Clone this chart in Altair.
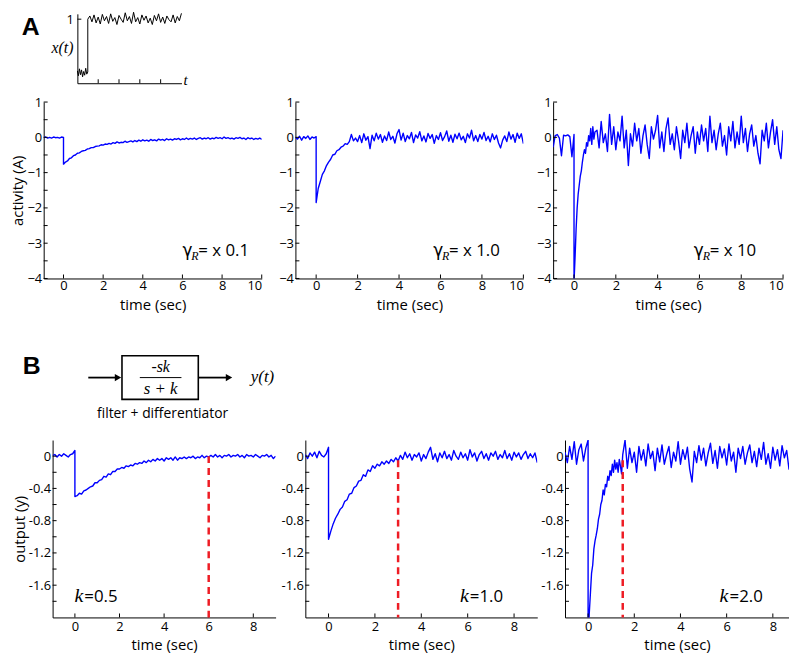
import altair as alt
import pandas as pd

# ---------------- values ----------------
# inset x(t): step input (time in arbitrary units 0..5)
INSET_PRE = [0.03, -0.06, 0.07, -0.04, 0.05, -0.08, 0.02, -0.05, 0.08, -0.03, 0.01]
INSET_POST = [1.0, 1.06, 0.95, 1.08, 0.93, 1.04, 0.91, 1.09, 0.97, 1.05, 0.92, 1.1, 0.96, 1.03,
              0.9, 1.07, 1.0, 0.94, 1.12, 0.97, 1.05, 0.92, 1.13, 0.95, 1.03, 0.91, 1.08, 0.98,
              1.06, 0.93, 1.02, 0.9, 1.07, 0.97, 1.1, 0.94, 1.04, 0.92, 1.06, 0.99, 0.95, 1.08,
              0.93, 1.05, 0.97, 1.11]

# panel A1 (gamma_R x 0.1)
A1_PRE = [-0.01, 0.01, -0.02, 0.0, -0.02, 0.01, -0.01, 0.0, -0.02, 0.01, 0.0]
A1_POST = [-0.76, -0.70, -0.67, -0.60, -0.58, -0.52, -0.50, -0.45, -0.44, -0.40, -0.38, -0.37,
           -0.33, -0.32, -0.29, -0.29, -0.26, -0.25, -0.24, -0.21, -0.22, -0.19, -0.20, -0.17,
           -0.19, -0.15, -0.17, -0.13, -0.16, -0.14, -0.15, -0.11, -0.14, -0.12, -0.10, -0.13,
           -0.09, -0.12, -0.08, -0.11, -0.07, -0.10, -0.08, -0.11, -0.06, -0.09, -0.07, -0.10,
           -0.05, -0.08, -0.06, -0.09, -0.04, -0.07, -0.05, -0.08, -0.04, -0.06, -0.03, -0.07,
           -0.04, -0.06, -0.02, -0.06, -0.03, -0.05, -0.02, -0.06, -0.03, -0.01, -0.05, -0.02,
           -0.04, -0.01, -0.05, -0.02, -0.04, 0.0, -0.03, -0.01, -0.04, 0.01, -0.03, -0.01,
           -0.04, -0.02, -0.05, -0.01, -0.03, 0.0, -0.04, -0.02, -0.06, -0.01, -0.04, -0.02,
           -0.06, -0.03, -0.05, -0.02, -0.06]

# panel A2 (gamma_R x 1.0)
A2_PRE = [0.0, -0.05, 0.03, -0.08, 0.02, -0.03, 0.04, -0.06, 0.01, -0.02, 0.02]
A2_TRANS = [-1.85, -1.45, -1.25, -1.05, -0.95, -0.8, -0.7, -0.62, -0.5, -0.48, -0.38, -0.35,
            -0.28, -0.25, -0.18, -0.2, -0.12, 0.08, -0.1, -0.02, -0.12]
A2_NOISE = [0.05, -0.15, 0.10, -0.08, 0.02, -0.32, 0.06, -0.10, 0.12, -0.05, 0.08, -0.14,
            0.04, -0.09, 0.15, -0.06, 0.03, -0.16, 0.10, 0.22, -0.08, 0.12, -0.12, 0.05,
            -0.04, 0.14, -0.15, 0.07, -0.02, 0.16, -0.10, 0.04, -0.13, 0.11, -0.03, 0.08,
            -0.17, 0.05, -0.06, 0.13, -0.09, 0.02, 0.18, -0.11, 0.06, -0.14, 0.09, -0.04,
            0.12, -0.07, 0.03, -0.15, 0.10, -0.02, 0.20, -0.10, 0.05, -0.12, 0.08, -0.05,
            0.14, -0.09, 0.03, -0.13, 0.10, -0.06, 0.06, -0.16, -0.30, -0.08, 0.04, -0.12,
            0.15, -0.05, 0.08, -0.14, 0.12, -0.03, 0.10, -0.18]

# panel A3 (gamma_R x 10)
A3_PRE = [-0.28, 0.05, 0.08, -0.02, -0.52, 0.06, 0.04, 0.07, 0.02, -0.55, 0.08]
A3_TRANS = [-4.1, -3.4, -2.6, -2.0, -1.6, -1.35, -1.1, -0.95, -0.7, -0.5, -0.35, -0.45,
            -0.15, -0.25, 0.05, -0.1, 0.25, -0.2, 0.3, -0.05, 0.15]
A3_NOISE = [0.2, -0.3, 0.45, -0.15, 0.1, -0.4, 0.65, -0.2, 0.3, -0.35, 0.15, -0.1, 0.6,
            -0.3, 0.2, -0.8, 0.1, -0.25, 0.4, -0.1, 0.25, -0.45, 0.05, 0.35, -0.2, -0.6,
            0.3, -0.05, 0.2, 0.62, -0.3, 0.15, -0.4, 0.25, 0.55, -0.2, 0.1, -0.35, 0.3,
            -0.1, -0.6, 0.2, -0.15, 0.4, -0.3, 0.05, 0.3, -0.45, 0.15, -0.2, 0.35, -0.1,
            0.25, -0.4, 0.6, -0.15, 0.2, -0.35, 0.1, 0.4, -0.25, 0.05, -0.5, 0.3, -0.1,
            0.45, -0.3, 0.15, -0.2, 0.6, -0.15, 0.25, -0.4, 0.1, 0.35, -0.25, 0.05, -0.45,
            -0.75, 0.2, -0.1, 0.4, -0.3, 0.15, 0.5, -0.2, 0.3, -0.35, -0.6, 0.2]

# panel B1 (k = 0.5)
B1_PRE = [0.01, 0.02, -0.01, 0.02, 0.0, 0.03, 0.01, -0.01, 0.02, 0.03, 0.07]
B1_POST = [-0.50, -0.49, -0.46, -0.47, -0.43, -0.42, -0.40, -0.38, -0.37, -0.33, -0.33,
           -0.30, -0.29, -0.25, -0.26, -0.22, -0.23, -0.19, -0.19, -0.16, -0.16, -0.14,
           -0.15, -0.12, -0.13, -0.11, -0.12, -0.09, -0.10, -0.08, -0.09, -0.06, -0.08,
           -0.05, -0.07, -0.04, -0.06, -0.03, -0.05, -0.03, -0.06, -0.02, -0.04, -0.02,
           -0.05, -0.01, -0.05, -0.02, -0.03, -0.01, -0.03, -0.01, -0.02, 0.0, -0.03,
           -0.01, -0.02, 0.01, -0.02, 0.0, -0.01, 0.01, -0.01, 0.02, -0.01, 0.01, -0.02,
           0.01, 0.0, 0.02, -0.01, 0.01, 0.0, 0.02, -0.01, 0.01, -0.02, 0.02, 0.0, 0.01,
           -0.01, 0.02, 0.0, -0.02, 0.01, 0.0, 0.02, -0.01, 0.01, -0.03, 0.0]

# panel B2 (k = 1.0)
B2_PRE = [0.02, -0.03, 0.04, 0.0, 0.05, -0.02, 0.06, 0.01, -0.01, 0.03, 0.11]
B2_POST = [-1.03, -0.93, -0.84, -0.77, -0.72, -0.66, -0.63, -0.56, -0.54, -0.47, -0.46,
           -0.39, -0.37, -0.31, -0.30, -0.23, -0.25, -0.17, -0.19, -0.12, -0.15, -0.10,
           -0.12, -0.07, -0.10, -0.06, -0.09, -0.04, -0.07, -0.02, -0.06, 0.01, -0.04,
           0.05, -0.02, 0.03, -0.05, 0.02, -0.01, 0.04, -0.06, 0.02, -0.03, 0.05, 0.11,
           -0.04, 0.03, -0.07, 0.04, -0.02, 0.06, -0.03, 0.02, -0.05, 0.07, 0.0, -0.04,
           0.05, -0.02, 0.03, -0.05, 0.08, -0.01, 0.04, -0.06, 0.02, 0.06, -0.03, 0.03,
           -0.05, 0.04, 0.0, 0.06, -0.04, 0.02, -0.02, 0.07, -0.03, 0.03, -0.05, 0.05,
           -0.01, 0.04, -0.04, 0.02, 0.06, -0.03, 0.03, -0.02, 0.04, -0.08]

# panel B3 (k = 2.0)
B3_PRE = [0.05, -0.08, 0.12, -0.04, 0.18, -0.1, 0.08, 0.15, -0.06, 0.1, 0.2]
B3_TRANS = [-2.3, -1.95, -1.7, -1.45, -1.35, -1.15, -1.05, -0.98, -0.9, -0.78, -0.72, -0.6,
            -0.55, -0.42, -0.48, -0.35, -0.38, -0.25, -0.3, -0.18, -0.24, -0.1, -0.2, -0.05,
            -0.16, -0.08, -0.2, -0.04, -0.12, -0.22, 0.02]
B3_NOISE = [0.2, -0.15, 0.1, -0.08, 0.05, -0.2, 0.12, -0.05, 0.08, -0.12, 0.15, -0.03,
            0.06, -0.18, 0.1, -0.07, 0.14, -0.1, 0.02, 0.12, -0.14, 0.05, -0.06, 0.18,
            -0.1, 0.08, -0.04, 0.11, -0.16, -0.32, 0.06, -0.08, 0.13, -0.05, 0.1, -0.12,
            0.04, 0.16, -0.09, 0.07, -0.15, 0.12, -0.02, 0.09, -0.11, 0.15, -0.06, 0.05,
            -0.2, 0.1, -0.03, 0.12, -0.1, 0.04, 0.14, -0.08, 0.06, -0.13, 0.1, -0.04, 0.17,
            -0.1, 0.03, -0.15, 0.11, -0.05, 0.08, -0.12, 0.13, -0.02, 0.07, -0.16, 0.1,
            -0.06, -0.3]

# settling-time markers (red dashed lines): time, top value
B_MARK_T = [6.0, 3.0, 1.5]
B_MARK_TOP = [0.0, -0.05, -0.05]

A_LABELS = ["x 0.1", "x 1.0", "x 10"]
B_LABELS = ["=0.5", "=1.0", "=2.0"]

A_XLAB = [0, 2, 4, 6, 8, 10]
A_YLAB = [1, 0, -1, -2, -3, -4]
A_YTICK = [1, 0.5, 0, -0.5, -1, -1.5, -2, -2.5, -3, -3.5, -4]
B_XLAB = [0, 2, 4, 6, 8]
B_YLAB = [0, -0.4, -0.8, -1.2, -1.6]
B_YTICK = [0, -0.2, -0.4, -0.6, -0.8, -1.0, -1.2, -1.4, -1.6, -1.8]
INSET_XTICK = [1, 2, 3, 4]
INSET_YLAB = [1]

# ---------------- styling ----------------
BLUE = "#0000ff"
RED = "#ee1c24"
SANS = "Open Sans"
SERIF = "Liberation Serif"
BOLD = "Liberation Sans"
ONE = pd.DataFrame({"a": [0]})


def series(*segs):
    t, v = [], []
    for t0, dt, vals in segs:
        for k, val in enumerate(vals):
            t.append(round(t0 + dt * k, 3))
            v.append(val)
    return pd.DataFrame({"t": t, "v": v, "i": list(range(len(t)))})


def txt(s, x, y, size, font=SANS, style="normal", weight="normal", align="left",
        baseline="alphabetic"):
    return alt.Chart(ONE).mark_text(text=s, font=font, fontSize=size, fontStyle=style,
                                    fontWeight=weight, align=align, baseline=baseline,
                                    color="black").encode(x=alt.value(x), y=alt.value(y))


def spacer(w, h):
    return alt.Chart(ONE).mark_point(opacity=0, size=1).encode(
        x=alt.value(1), y=alt.value(1)).properties(width=w, height=h)


def panel(df, xdom, ydom, w, h, xlab, ylab, ytick, ytitle, yexpr, xlp, xtp, texts,
          mark=None, color=BLUE, sw=1.4):
    xs = alt.Scale(domain=xdom, nice=False, zero=False)
    ys = alt.Scale(domain=ydom, nice=False, zero=False)
    xaxis = alt.Axis(values=xlab, title="time (sec)", format="d", labelPadding=xlp,
                     titlePadding=xtp)
    if ytitle:
        yaxis = alt.Axis(values=ylab, title=ytitle, labelExpr=yexpr, labelPadding=2,
                         titlePadding=1)
    else:
        yaxis = alt.Axis(values=ylab, title=None, labelExpr=yexpr, labelPadding=2)
    line = alt.Chart(df).mark_line(color=color, strokeWidth=sw, clip=True,
                                   strokeJoin="round").encode(
        x=alt.X("t:Q", scale=xs, axis=xaxis),
        y=alt.Y("v:Q", scale=ys, axis=yaxis),
        order="i:Q")
    ytk = alt.Chart(pd.DataFrame({"v": ytick})).mark_rule(color="black", strokeWidth=1).encode(
        y=alt.Y("v:Q", scale=ys, axis=yaxis), x=alt.value(0), x2=alt.value(4))
    xtk = alt.Chart(pd.DataFrame({"t": xlab})).mark_rule(color="black", strokeWidth=1).encode(
        x=alt.X("t:Q", scale=xs, axis=xaxis), y=alt.value(h), y2=alt.value(h - 4))
    layers = [line, ytk, xtk]
    if mark is not None:
        mt, mtop = mark
        layers.append(alt.Chart(pd.DataFrame({"t": [mt], "v": [mtop], "v2": [ydom[0]]}))
                      .mark_rule(color=RED, strokeWidth=2.5, strokeDash=[7, 5])
                      .encode(x=alt.X("t:Q", scale=xs, axis=xaxis),
                              y=alt.Y("v:Q", scale=ys, axis=yaxis), y2="v2:Q"))
    layers += texts
    return alt.layer(*layers).properties(width=w, height=h)


# ---------------- panel A ----------------
AH = 178
A_EXPR = "format(datum.value, 'd')"
a_specs = [
    (series((-1.0, 0.1, A1_PRE), (0.0, 0.1, A1_POST)), 220, 80, "activity (A)"),
    (series((-1.0, 0.1, A2_PRE), (0.0, 0.1, A2_TRANS), (2.1, 0.1, A2_NOISE)), 230, 91, None),
    (series((-1.0, 0.1, A3_PRE), (0.0, 0.05, A3_TRANS), (1.1, 0.1, A3_NOISE)), 232, 90, None),
]
a_panels = []
for (df, w, off, yt), lab in zip(a_specs, A_LABELS):
    gx = w - off
    texts = [txt("γ", gx, AH - 23, 17, font="DejaVu Sans"),
             txt("R", gx + 9, AH - 19, 12, font=SERIF, style="italic"),
             txt("= " + lab, gx + 16, AH - 23, 17)]
    a_panels.append(panel(df, [-1, 10], [-4, 1], w, AH, A_XLAB, A_YLAB, A_YTICK, yt,
                          A_EXPR, 1, 5, texts))

# ---------------- panel B ----------------
BH = 179
B_EXPR = "datum.value == 0 ? '0' : replace(format(datum.value, '.1f'), '\u2212', '-')"
b_specs = [
    (series((-1.0, 0.1, B1_PRE), (0.0, 0.1, B1_POST)), 225, [-1, 9], 22, "output (y)"),
    (series((-1.0, 0.1, B2_PRE), (0.0, 0.1, B2_POST)), 234, [-1, 9], 156, None),
    (series((-1.0, 0.1, B3_PRE), (0.0, 0.05, B3_TRANS), (1.6, 0.1, B3_NOISE)), 226,
     [-1, 8.7], 156, None),
]
b_panels = []
for (df, w, xd, kx, yt), lab, mt, mtop in zip(b_specs, B_LABELS, B_MARK_T, B_MARK_TOP):
    texts = [txt("k", kx, BH - 16, 20, font=SERIF, style="italic"),
             txt(lab, kx + 10, BH - 16, 17)]
    b_panels.append(panel(df, xd, [-2, 0.2], w, BH, B_XLAB, B_YLAB, B_YTICK, yt,
                          B_EXPR, 3, 4, texts, mark=(mt, mtop)))

# ---------------- inset x(t) ----------------
IH = 70
inset_df = series((0.0, 0.05, INSET_PRE), (0.5, 0.1, INSET_POST))
ixs = alt.Scale(domain=[0, 5], nice=False, zero=False)
iys = alt.Scale(domain=[-0.2, 1.1], nice=False, zero=False)
ixa = alt.Axis(labels=False, title=None, values=INSET_XTICK)
iya = alt.Axis(values=INSET_YLAB, title=None, format="d", labelPadding=4)
inset = alt.layer(
    alt.Chart(inset_df).mark_line(color="black", strokeWidth=1, strokeJoin="round").encode(
        x=alt.X("t:Q", scale=ixs, axis=ixa), y=alt.Y("v:Q", scale=iys, axis=iya),
        order="i:Q"),
    alt.Chart(pd.DataFrame({"t": INSET_XTICK})).mark_rule(color="black").encode(
        x=alt.X("t:Q", scale=ixs, axis=ixa), y=alt.value(IH), y2=alt.value(IH - 4)),
    alt.Chart(pd.DataFrame({"v": INSET_YLAB})).mark_rule(color="black").encode(
        y=alt.Y("v:Q", scale=iys, axis=iya), x=alt.value(0), x2=alt.value(4)),
    txt("t", 107, IH - 3, 15, font=SERIF, style="italic", baseline="middle"),
).properties(width=105, height=IH)

row1_left = alt.layer(
    txt("A", 20, 13, 25, font=BOLD, weight="bold", align="center", baseline="middle"),
    txt("x(t)", 52, 35, 16, font=SERIF, style="italic", align="center", baseline="middle"),
).properties(width=67, height=IH)

# ---------------- block diagram (decoration row) ----------------
DH = 129


def hrule(x1, x2, y, sw):
    return alt.Chart(ONE).mark_rule(color="black", strokeWidth=sw).encode(
        x=alt.value(x1), x2=alt.value(x2), y=alt.value(y))


def head(x, y):
    return alt.Chart(ONE).mark_point(shape="triangle-right", filled=True, size=55,
                                     color="black", opacity=1).encode(
        x=alt.value(x), y=alt.value(y))


deco = alt.layer(
    txt("B", 21, 54, 25, font=BOLD, weight="bold", align="center", baseline="middle"),
    alt.Chart(ONE).mark_rect(fill="white", stroke="black", strokeWidth=1.6).encode(
        x=alt.value(112), x2=alt.value(189), y=alt.value(44), y2=alt.value(88)),
    hrule(78, 106, 66, 1.8), head(108, 66),
    hrule(189, 218, 66, 1.8), head(220, 66),
    hrule(130, 172, 66, 1),
    txt("-sk", 151, 55, 16, font=SERIF, style="italic", align="center", baseline="middle"),
    txt("s + k", 151, 78, 17, font=SERIF, style="italic", align="center", baseline="middle"),
    txt("y(t)", 242, 65, 17, font=SERIF, style="italic", baseline="middle"),
    txt("filter + differentiator", 153, 103, 14, align="center", baseline="middle"),
).properties(width=778, height=DH)

# ---------------- assemble ----------------
row1 = alt.hconcat(row1_left, inset, spacing=0, bounds="flush")
rowA = alt.hconcat(spacer(33, AH), a_panels[0], spacer(34, AH), a_panels[1],
                   spacer(30, AH), a_panels[2], spacing=0, bounds="flush")
rowB = alt.hconcat(spacer(42, BH), b_panels[0], spacer(30, BH), b_panels[1],
                   spacer(28, BH), b_panels[2], spacing=0, bounds="flush")

chart = alt.vconcat(row1, spacer(0, 8), rowA, deco, rowB, spacing=0).properties(
    padding={"left": 3, "top": 0, "right": 0, "bottom": 0},
    background="white").configure_view(stroke=None).configure_axis(
    grid=False, ticks=False, tickSize=0, domainColor="black", domainWidth=1,
    labelColor="black", titleColor="black", labelFont=SANS, titleFont=SANS,
    labelFontSize=13, titleFontSize=15, titleFontWeight="normal")

chart.save("out.html", embed_options={"renderer": "svg", "actions": False})
